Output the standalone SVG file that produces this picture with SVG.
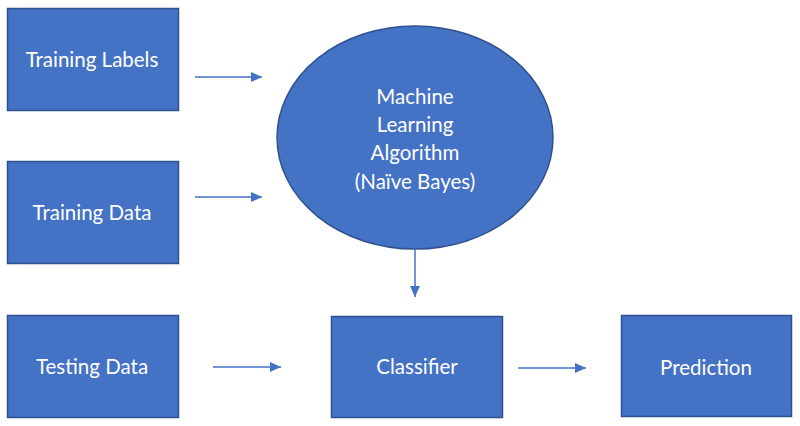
<svg xmlns="http://www.w3.org/2000/svg" width="800" height="426" viewBox="0 0 800 426">
<style>
.node{fill:#4472C4;stroke:#2F528F;stroke-width:1.5}
.lbl{fill:#fff;font-family:Lato,"Open Sans","Liberation Sans",sans-serif;font-size:20.5px;text-anchor:middle}
.conn{stroke:#4472C4;stroke-width:1.5;fill:none;marker-end:url(#ah)}
</style>
<defs>
<marker id="ah" viewBox="0 0 11 10" refX="11" refY="5" markerWidth="11" markerHeight="10" markerUnits="userSpaceOnUse" orient="auto"><path d="M0,0 L11,5 L0,10 z" fill="#4472C4"/></marker>
</defs>
<rect width="800" height="426" fill="#fff"/>
<g id="training-labels"><rect class="node" x="7.5" y="8.5" width="171" height="102"/><text class="lbl" x="92" y="67">Training Labels</text></g>
<g id="training-data"><rect class="node" x="7.5" y="161.5" width="171" height="102"/><text class="lbl" x="92" y="220">Training Data</text></g>
<g id="testing-data"><rect class="node" x="7.5" y="315.5" width="171" height="102"/><text class="lbl" x="92" y="374">Testing Data</text></g>
<g id="ml-algorithm"><ellipse class="node" cx="415" cy="137.5" rx="138" ry="111.5"/>
<text class="lbl" x="415" y="104">Machine</text>
<text class="lbl" x="415" y="132">Learning</text>
<text class="lbl" x="415" y="160">Algorithm</text>
<text class="lbl" x="415" y="189">(Naïve Bayes)</text></g>
<g id="classifier"><rect class="node" x="331.5" y="316.5" width="171" height="101"/><text class="lbl" x="417" y="374">Classifier</text></g>
<g id="prediction"><rect class="node" x="621.5" y="315.5" width="170" height="101"/><text class="lbl" x="706" y="375">Prediction</text></g>
<g id="connectors">
<line class="conn" x1="195" y1="77" x2="262" y2="77"/>
<line class="conn" x1="195" y1="197" x2="262" y2="197"/>
<line class="conn" x1="415" y1="249" x2="415" y2="297"/>
<line class="conn" x1="213" y1="367" x2="281" y2="367"/>
<line class="conn" x1="518" y1="368" x2="586" y2="368"/>
</g>
</svg>
